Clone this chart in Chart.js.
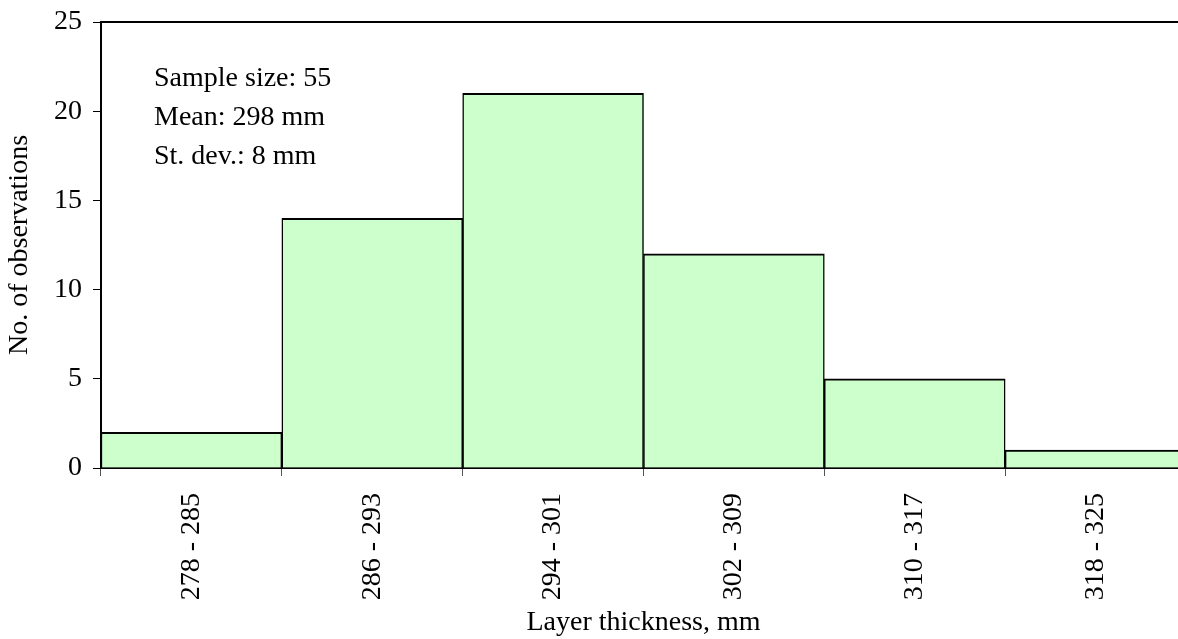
<!DOCTYPE html>
<html>
<head>
<meta charset="utf-8">
<script src="https://cdn.jsdelivr.net/npm/chart.js@4.4.1/dist/chart.umd.min.js"></script>
<style>
  html, body { margin: 0; padding: 0; background: #fff; overflow: hidden; }
  canvas { display: block; }
</style>
</head>
<body>
<canvas id="histChart" width="1187" height="639"></canvas>
<script>
// Layer thickness classes and counts
const classes = ['278 - 285', '286 - 293', '294 - 301', '302 - 309', '310 - 317', '318 - 325'];
const counts = [2, 14, 21, 12, 5, 1];
const statsLines = ['Sample size: 55', 'Mean: 298 mm', 'St. dev.: 8 mm'];

const serif = "'Liberation Serif', 'Times New Roman', serif";
const fontSize = 28;

// top frame line + statistics box
const extras = {
    id: 'extras',
    afterDraw(chart) {
        const c = chart.ctx;
        const area = chart.chartArea;
        c.save();
        c.strokeStyle = '#000';
        c.lineWidth = 2;
        c.beginPath();
        c.moveTo(area.left, area.top);
        c.lineTo(chart.width, area.top);
        c.stroke();

        c.fillStyle = '#000';
        c.font = fontSize + 'px ' + serif;
        c.textBaseline = 'alphabetic';
        c.textAlign = 'left';
        statsLines.forEach((t, i) => {
            c.fillText(t, area.left + 53, area.top + 64 + i * 39);
        });
        c.restore();
    }
};

const ctx = document.getElementById('histChart').getContext('2d');

const histChart = new Chart(ctx, {
    type: 'bar',
    data: {
        labels: classes,
        datasets: [{
            data: counts,
            backgroundColor: '#ccffcc',
            borderColor: '#000',
            borderWidth: { top: 2, left: 1.5, right: 1.5, bottom: 0 },
            borderSkipped: false,
            categoryPercentage: 1,
            barPercentage: 1
        }]
    },
    options: {
        responsive: false,
        animation: false,
        devicePixelRatio: 1,
        layout: { padding: { top: 22, right: 1, left: 0, bottom: 0 } },
        plugins: {
            legend: { display: false },
            tooltip: { enabled: false }
        },
        scales: {
            x: {
                offset: true,
                grid: {
                    display: true,
                    offset: true,
                    drawOnChartArea: false,
                    drawTicks: true,
                    tickLength: 8,
                    color: '#555',
                    lineWidth: 1
                },
                border: { display: true, color: '#000', width: 2 },
                ticks: {
                    color: '#000',
                    font: { family: serif, size: fontSize },
                    minRotation: 90,
                    maxRotation: 90,
                    padding: 17,
                    autoSkip: false
                },
                title: {
                    display: true,
                    text: 'Layer thickness, mm',
                    color: '#000',
                    font: { family: serif, size: fontSize },
                    padding: { top: 0, bottom: 0 }
                },
                afterFit(scale) {
                    scale.height = 171;
                    scale.paddingLeft = 0;
                    scale.paddingRight = 0;
                }
            },
            y: {
                min: 0,
                max: 25,
                ticks: {
                    stepSize: 5,
                    color: '#000',
                    font: { family: serif, size: fontSize },
                    padding: 11
                },
                grid: {
                    display: true,
                    drawOnChartArea: false,
                    drawTicks: true,
                    tickLength: 8,
                    color: '#000',
                    lineWidth: 1
                },
                border: { display: true, color: '#000', width: 2 },
                title: {
                    display: true,
                    text: 'No. of observations',
                    color: '#000',
                    font: { family: serif, size: fontSize },
                    padding: { top: 3, bottom: 0 }
                },
                afterFit(scale) {
                    scale.width = 101;
                    scale.paddingTop = 0;
                    scale.paddingBottom = 0;
                }
            }
        }
    },
    plugins: [extras]
});
</script>
</body>
</html>
